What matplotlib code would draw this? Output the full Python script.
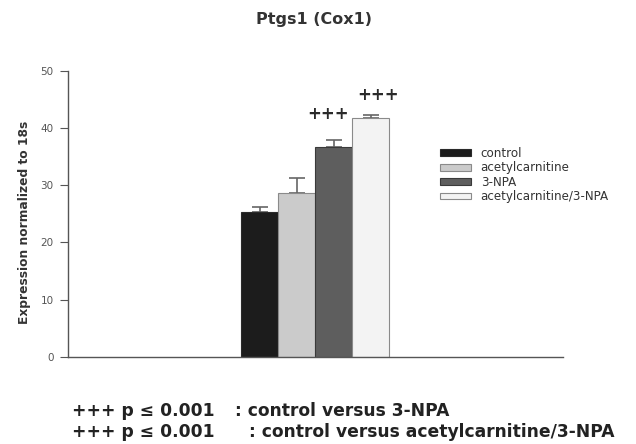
import matplotlib.pyplot as plt
import numpy as np
from matplotlib.patches import Patch

plt.rcParams["font.family"] = ["DejaVu Sans"]

groups = ["control", "acetylcarnitine", "3-NPA", "acetylcarnitine/3-NPA"]
means = [25.3, 28.6, 36.6, 41.7]
errors = [0.9, 2.6, 1.3, 0.6]
signif = ["", "", "+++", "+++"]
colors = ["#1c1c1c", "#cbcbcb", "#5e5e5e", "#f3f3f3"]
edges = ["#2a2a2a", "#8a8a8a", "#3a3a3a", "#8a8a8a"]
footnotes = [
    ("+++ p \u2264 0.001", ": control versus 3-NPA"),
    ("+++ p \u2264 0.001", ": control versus acetylcarnitine/3-NPA"),
]

fig = plt.figure(figsize=(6.36, 4.44), dpi=100)
ax = fig.add_axes([0.107, 0.196, 0.778, 0.645])

x = np.arange(len(groups))
ax.bar(x, means, width=1.0, color=colors, edgecolor=edges, linewidth=0.8, zorder=2)
ax.errorbar(x, means, yerr=[np.zeros(len(errors)), errors], fmt="none",
            ecolor="#666666", elinewidth=1.2, capsize=6, capthick=1.2, zorder=1)

# star markers sit a little off-centre in the original
sig_shift = [0, 0, -0.15, 0.2]
sig_lift = [0, 0, 4.6, 3.5]
for xi, m, e, s, dx, dy in zip(x, means, errors, signif, sig_shift, sig_lift):
    if s:
        ax.text(xi + dx, m + e + dy, s, ha="center", va="center",
                fontsize=12, fontweight="bold", color="#2a2a2a")

ax.set_xlim(-5.19, 8.19)
ax.set_ylim(0, 50)
ax.set_yticks([0, 10, 20, 30, 40, 50])
ax.set_xticks([])
for side in ("top", "right"):
    ax.spines[side].set_visible(False)
for side in ("left", "bottom"):
    ax.spines[side].set_color("#555555")
    ax.spines[side].set_linewidth(1.0)
ax.tick_params(axis="y", direction="out", length=5.5, color="#555555", pad=5,
               labelsize=7.5, labelcolor="#555555")
ax.set_ylabel("Expression normalized to 18s", fontsize=8.8, fontweight="bold",
              color="#333333")
ax.yaxis.set_label_coords(-0.075, 0.47)

fig.text(0.493, 0.955, "Ptgs1 (Cox1)", ha="center", va="center",
         fontsize=11.5, fontweight="bold", color="#333333")

handles = [Patch(facecolor=c, edgecolor=ed, linewidth=0.8) for c, ed in zip(colors, edges)]
fig.legend(handles, groups, loc="upper left", bbox_to_anchor=(0.692, 0.669),
           frameon=False, fontsize=8.6, handlelength=2.6, handleheight=0.5,
           handletextpad=0.8, labelspacing=0.12, borderpad=0, borderaxespad=0,
           labelcolor="#333333")

for i, (left, right) in enumerate(footnotes):
    yy = 0.074 - i * 0.046
    fig.text(0.113, yy, left, ha="left", va="center", fontsize=12.3,
             fontweight="bold", color="#222222")
    fig.text(0.369 + i * 0.022, yy, right, ha="left", va="center", fontsize=12.3,
             fontweight="bold", color="#222222")

fig.savefig("out.png", dpi=100)
